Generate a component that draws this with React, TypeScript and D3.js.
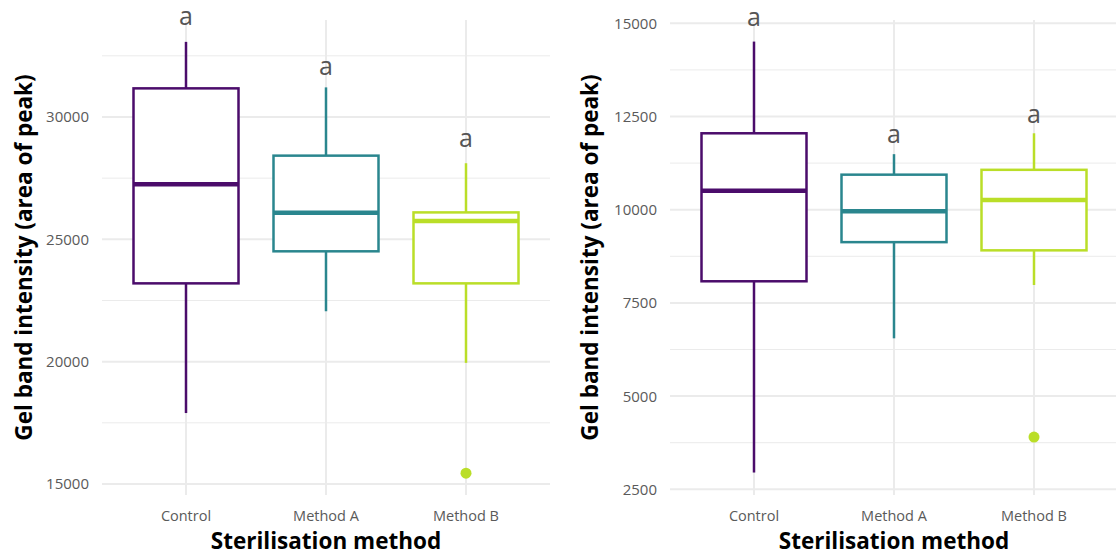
import React from "react";
import * as d3 from "d3";

const categories = ["Control", "Method A", "Method B"];
const colors = ["#4B0C6B", "#2A868E", "#BADE28"];

// [lowerWhisker, q1, median, q3, upperWhisker]
const leftStats = [
  [17900, 23200, 27250, 31170, 33070],
  [22060, 24510, 26090, 28420, 31210],
  [19950, 23200, 25750, 26100, 28110],
];
const leftOutliers = [[], [], [15440]];
const leftLetters = ["a", "a", "a"];
const leftLetterY = [33760, 31720, 28770];
const leftTicks = [15000, 20000, 25000, 30000];
const leftMinor = [17500, 22500, 27500, 32500];
const leftDomain = [14550, 33964];

const rightStats = [
  [2950, 8080, 10510, 12050, 14510],
  [6550, 9130, 9960, 10940, 11490],
  [7980, 8910, 10260, 11070, 12050],
];
const rightOutliers = [[], [], [3900]];
const rightLetters = ["a", "a", "a"];
const rightLetterY = [14930, 11790, 12330];
const rightTicks = [2500, 5000, 7500, 10000, 12500, 15000];
const rightMinor = [3750, 6250, 8750, 11250, 13750];
const rightDomain = [2347, 15089];

const yTitle = "Gel band intensity (area of peak)";
const xTitle = "Sterilisation method";

const FONT = "'Open Sans', 'Noto Sans', sans-serif";

function Panel({ x0, x1, stats, outliers, letters, letterY, ticks, minor, domain, titleX }: any) {
  const top = 20, bottom = 495;
  const xs = d3.scalePoint().domain(categories).range([x0 + 84, x1 - 84]);
  const ys = d3.scaleLinear().domain(domain).range([bottom, top]);
  const step = 140;
  const bw = step * 0.75;
  return (
    <g>
      {minor.map((t: number) => (
        <line key={"mi" + t} x1={x0} x2={x1} y1={ys(t)} y2={ys(t)} stroke="#ebebeb" strokeWidth={1} />
      ))}
      {ticks.map((t: number) => (
        <line key={"ma" + t} x1={x0} x2={x1} y1={ys(t)} y2={ys(t)} stroke="#ebebeb" strokeWidth={2} />
      ))}
      {categories.map((c) => (
        <line key={"v" + c} x1={xs(c)} x2={xs(c)} y1={top} y2={bottom} stroke="#ebebeb" strokeWidth={2} />
      ))}
      {ticks.map((t: number) => (
        <text key={"tl" + t} x={x0 - 13} y={ys(t)} dy="0.36em" textAnchor="end" fontSize={15} fill="#5a5a5a" fontFamily={FONT}>
          {t}
        </text>
      ))}
      {categories.map((c) => (
        <text key={"xl" + c} x={xs(c)} y={521} textAnchor="middle" fontSize={14.5} fill="#5a5a5a" fontFamily={FONT}>
          {c}
        </text>
      ))}
      {categories.map((c, i) => {
        const [lo, q1, med, q3, hi] = stats[i];
        const cx = xs(c) as number;
        const col = colors[i];
        return (
          <g key={"b" + c}>
            <line x1={cx} x2={cx} y1={ys(hi)} y2={ys(q3)} stroke={col} strokeWidth={2.5} />
            <line x1={cx} x2={cx} y1={ys(q1)} y2={ys(lo)} stroke={col} strokeWidth={2.5} />
            <rect x={cx - bw / 2} y={ys(q3)} width={bw} height={ys(q1) - ys(q3)} fill="white" stroke={col} strokeWidth={2.5} />
            <line x1={cx - bw / 2} x2={cx + bw / 2} y1={ys(med)} y2={ys(med)} stroke={col} strokeWidth={4.5} />
            {outliers[i].map((o: number, k: number) => (
              <circle key={k} cx={cx} cy={ys(o)} r={5.5} fill={col} />
            ))}
            <text x={cx} y={ys(letterY[i])} textAnchor="middle" fontSize={25} fill="#555555" fontFamily={FONT}>
              {letters[i]}
            </text>
          </g>
        );
      })}
      <text
        transform={`translate(${titleX},${(top + bottom) / 2}) rotate(-90)`}
        textAnchor="middle"
        dy="0.35em"
        fontSize={22.5}
        fontWeight="bold"
        fill="#000"
        fontFamily={FONT}
      >
        {yTitle}
      </text>
      <text x={(x0 + x1) / 2} y={549} textAnchor="middle" fontSize={22.5} fontWeight="bold" fill="#000" fontFamily={FONT}>
        {xTitle}
      </text>
    </g>
  );
}

export default function App() {
  return (
    <svg width={1116} height={555} style={{ position: "absolute", left: 0, top: 0, background: "white" }}>
      <rect width={1116} height={555} fill="white" />
      <Panel
        x0={102}
        x1={550}
        stats={leftStats}
        outliers={leftOutliers}
        letters={leftLetters}
        letterY={leftLetterY}
        ticks={leftTicks}
        minor={leftMinor}
        domain={leftDomain}
        titleX={24}
      />
      <Panel
        x0={670}
        x1={1118}
        stats={rightStats}
        outliers={rightOutliers}
        letters={rightLetters}
        letterY={rightLetterY}
        ticks={rightTicks}
        minor={rightMinor}
        domain={rightDomain}
        titleX={590}
      />
    </svg>
  );
}
